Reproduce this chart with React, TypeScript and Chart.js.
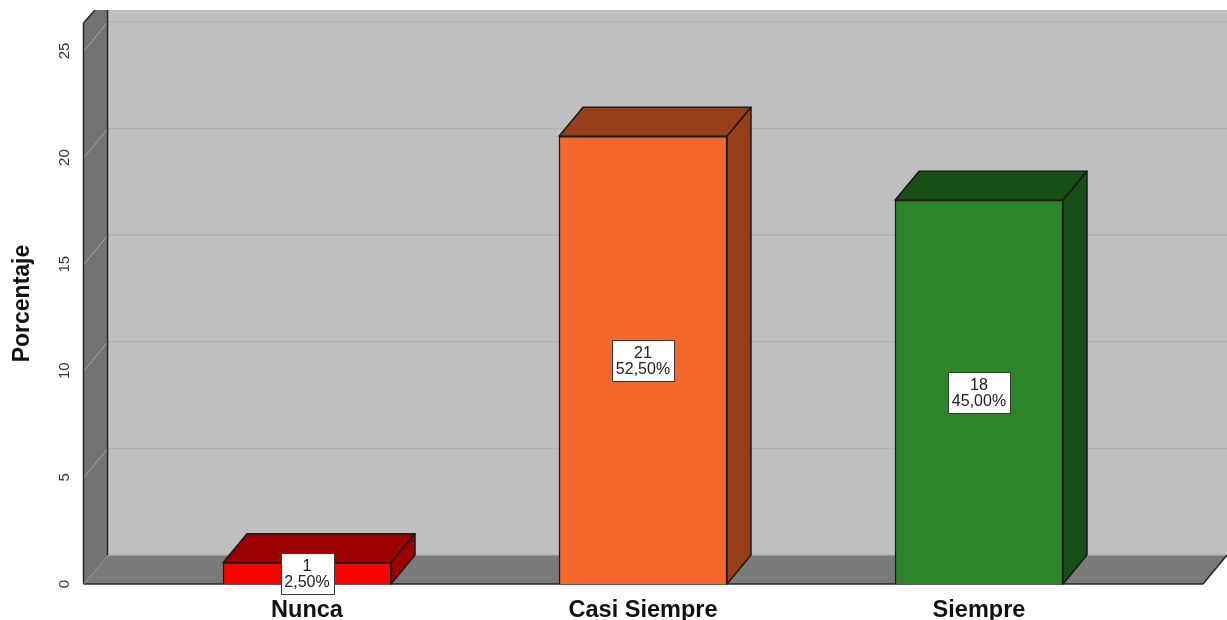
import React, { useEffect, useRef } from "react";
import { Chart, registerables } from "chart.js";

Chart.register(...registerables);

const categories = ["Nunca", "Casi Siempre", "Siempre"];
const counts = [1, 21, 18];
const percentLabels = ["2,50%", "52,50%", "45,00%"];
const frontColors = ["#ff0000", "#f4682b", "#2a8629"];
const sideColors = ["#9c0000", "#973f18", "#174f16"];
const yTicks = [0, 5, 10, 15, 20, 25];

const DX = 24;
const DY = -29;
const TOP = 10;
const FONT = '"Liberation Sans", Arial, sans-serif';

function poly(ctx: CanvasRenderingContext2D, pts: number[][], fill: string, stroke?: string, lw = 1.5) {
  ctx.beginPath();
  pts.forEach((p, i) => (i ? ctx.lineTo(p[0], p[1]) : ctx.moveTo(p[0], p[1])));
  ctx.closePath();
  ctx.fillStyle = fill;
  ctx.fill();
  if (stroke) {
    ctx.strokeStyle = stroke;
    ctx.lineWidth = lw;
    ctx.lineJoin = "round";
    ctx.stroke();
  }
}

function line(ctx: CanvasRenderingContext2D, x1: number, y1: number, x2: number, y2: number, c: string, lw: number) {
  ctx.beginPath();
  ctx.moveTo(x1, y1);
  ctx.lineTo(x2, y2);
  ctx.strokeStyle = c;
  ctx.lineWidth = lw;
  ctx.stroke();
}

const box3d = {
  id: "box3d",
  beforeDatasetsDraw(chart: any) {
    const { ctx, chartArea, scales } = chart;
    const { left, right, bottom, top } = chartArea;
    const W = chart.width;
    ctx.save();
    ctx.beginPath();
    ctx.rect(0, TOP, W, chart.height);
    ctx.clip();
    // back wall
    ctx.fillStyle = "#bfbfbf";
    ctx.fillRect(left + DX, TOP, W - left - DX, bottom + DY - TOP);
    // side wall
    poly(ctx, [[left, bottom], [left + DX, bottom + DY], [left + DX, TOP], [left + 11, TOP], [left, top]], "#737373");
    // floor
    poly(ctx, [[left, bottom], [left + DX, bottom + DY], [right + DX, bottom + DY], [right, bottom]], "#7a7a7a");
    // grid
    yTicks.forEach((v) => {
      const y = scales.y.getPixelForValue(v);
      if (v > 0) {
        line(ctx, left, y, left + DX, y + DY, "#a8a8a8", 1);
        line(ctx, left + DX, y + DY, W, y + DY, "#b0b0b0", 1.5);
      }
    });
    line(ctx, left + DX, bottom + DY, W, bottom + DY, "#adadad", 1.5);
    // edges
    line(ctx, left + DX - 0.5, TOP, left + DX - 0.5, bottom + DY, "#262626", 1.5);
    line(ctx, left - 0.5, top, left - 0.5, bottom, "#262626", 1.5);
    line(ctx, left - 0.5, top, left + 11, TOP, "#262626", 1.5);
    line(ctx, right, bottom, right + DX, bottom + DY, "#262626", 1.5);
    line(ctx, left - 0.5, bottom, right, bottom, "#262626", 1.5);
    line(ctx, left, bottom, left + DX, bottom + DY, "#8f8f8f", 1);
    // bar sides
    chart.getDatasetMeta(0).data.forEach((bar: any, i: number) => {
      const half = bar.width / 2;
      const xl = bar.x - half;
      const xr = bar.x + half;
      poly(ctx, [[xl, bar.y], [xl + DX, bar.y + DY], [xr + DX, bar.y + DY], [xr, bar.y]], sideColors[i], "#1a1a1a");
      poly(ctx, [[xr, bar.y], [xr + DX, bar.y + DY], [xr + DX, bar.base + DY], [xr, bar.base]], sideColors[i], "#1a1a1a");
    });
    ctx.restore();
  },
  afterDatasetsDraw(chart: any) {
    const { ctx } = chart;
    chart.getDatasetMeta(0).data.forEach((bar: any, i: number) => {
      const top = String(counts[i]);
      const bot = percentLabels[i];
      ctx.save();
      ctx.font = `16px ${FONT}`;
      const w = Math.round(ctx.measureText(bot).width) + 8;
      const h = 41;
      const cy = (bar.y + bar.base) / 2;
      const x = Math.round(bar.x - w / 2) + 0.5;
      const y = Math.round(cy - h / 2) + 0.5;
      ctx.fillStyle = "#ffffff";
      ctx.fillRect(x, y, w, h);
      ctx.strokeStyle = "#3a3a3a";
      ctx.lineWidth = 1;
      ctx.strokeRect(x, y, w, h);
      ctx.fillStyle = "#222222";
      ctx.textAlign = "center";
      ctx.textBaseline = "middle";
      ctx.fillText(top, bar.x, cy - 7);
      ctx.fillText(bot, bar.x, cy + 9);
      ctx.restore();
    });
  },
};

const noPad = (s: any) => {
  s.paddingTop = 0;
  s.paddingBottom = 0;
  s.paddingLeft = 0;
  s.paddingRight = 0;
};

export default function App() {
  const ref = useRef<HTMLCanvasElement>(null);
  useEffect(() => {
    const chart = new Chart(ref.current as HTMLCanvasElement, {
      type: "bar",
      data: {
        datasets: [
          {
            data: counts.map((v, i) => ({ x: i, y: v })),
            backgroundColor: frontColors,
            borderColor: "#1a1a1a",
            borderWidth: 1.5,
            barThickness: 168,
          },
        ],
      },
      options: {
        animation: false,
        responsive: false,
        layout: { padding: { top: 23, right: 24, left: 0, bottom: 0 } },
        plugins: { legend: { display: false }, tooltip: { enabled: false } },
        scales: {
          x: {
            type: "linear",
            offset: false,
            min: -0.6637,
            max: 2.6667,
            afterFit: (s: any) => { s.height = 36; noPad(s); },
            border: { display: false },
            grid: { display: false, drawTicks: false },
            afterBuildTicks: (s: any) => { s.ticks = categories.map((_, i) => ({ value: i })); },
            ticks: {
              padding: 12,
              autoSkip: false,
              maxRotation: 0,
              color: "#111111",
              font: { family: FONT, size: 23.5, weight: "bold" },
              callback: (v: any) => categories[v] ?? "",
            },
          },
          y: {
            min: 0,
            max: 26.31,
            afterFit: (s: any) => { s.width = 84; noPad(s); },
            border: { display: false },
            grid: { display: false, drawTicks: false },
            afterBuildTicks: (s: any) => { s.ticks = yTicks.map((v) => ({ value: v })); },
            title: {
              display: true,
              text: "Porcentaje",
              color: "#111111",
              padding: { top: 9, bottom: 0 },
              font: { family: FONT, size: 23, weight: "bold" },
            },
            ticks: {
              padding: 11,
              crossAlign: "center",
              minRotation: 90,
              maxRotation: 90,
              color: "#333333",
              font: { family: FONT, size: 15 },
            },
          },
        },
      },
      plugins: [box3d],
    } as any);
    return () => chart.destroy();
  }, []);
  return (
    <div style={{ position: "fixed", left: 0, top: 0, width: 1227, height: 620, background: "#fff" }}>
      <canvas ref={ref} width={1227} height={620} style={{ display: "block" }} />
    </div>
  );
}
